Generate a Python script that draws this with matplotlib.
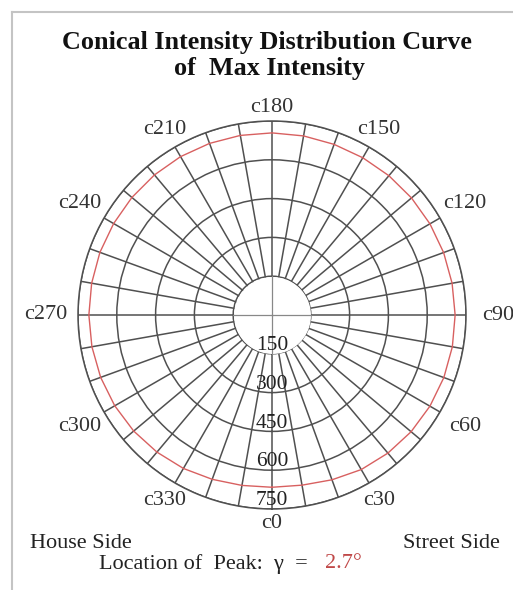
import numpy as np
import matplotlib
matplotlib.use("Agg")
import matplotlib.pyplot as plt

# C-plane angles (deg) and max intensity
c_angles = np.arange(0, 360, 10)
intensity = [666, 668, 678, 690, 697, 702, 705, 707, 708, 708, 707, 706,
             705, 704, 703, 702, 702, 703, 704, 705, 706, 707, 707, 707,
             707, 708, 708, 708, 707, 705, 702, 698, 692, 685, 676, 669]

ring_values = [150, 300, 450, 600, 750]
label_angles = np.arange(0, 360, 30)
peak_text = "2.7°"

plt.rcParams['font.family'] = ['Liberation Serif', 'DejaVu Serif']
grid_col = '#505050'
txt_col = '#333333'

fig = plt.figure(figsize=(5.13, 5.90), dpi=100)
fig.patch.set_facecolor('white')

# frame lines on left and top
fig.add_artist(plt.Line2D([12/513, 12/513], [0, 1 - 12/590], transform=fig.transFigure,
                          color='#c4c4c4', lw=1.5))
fig.add_artist(plt.Line2D([12/513, 1], [1 - 12/590, 1 - 12/590], transform=fig.transFigure,
                          color='#c4c4c4', lw=1.5))

R = 194  # px
cx, cy = 272, 315
ax = fig.add_axes([(cx - R)/513, (590 - cy - R)/590, 2*R/513, 2*R/590], projection='polar')
ax.set_theta_zero_location('S')
ax.set_theta_direction(1)
ax.set_ylim(0, 750)

# grid: spokes every 10 deg
ax.set_thetagrids(c_angles, [""] * len(c_angles))
ax.set_rgrids(ring_values, [""] * len(ring_values))
ax.grid(True, color=grid_col, lw=1.1)
ax.spines['polar'].set_color(grid_col)
ax.spines['polar'].set_linewidth(1.1)

# angle labels every 30 deg, a bit further out on the sides
for a in label_angles:
    phi = np.radians(a)
    d = 208 + 18 * abs(np.sin(phi)) ** 1.5
    ax.text(phi, 750 * d / R, "c%d" % a, ha='center', va='center', fontsize=16,
            color=txt_col, clip_on=False)

# white hole in the middle, with cross lines through the centre
th = np.linspace(0, 2 * np.pi, 361)
ax.fill_between(th, 0, ring_values[0] - 4, color='white', zorder=2)
for a in [0, 90, 180, 270]:
    ax.plot([np.radians(a), np.radians(a)], [0, ring_values[0]], color='#888888', lw=0.9, zorder=2.1)

# radial labels along c0
for r in ring_values:
    ax.text(0, r - 32, str(r), ha='center', va='center', fontsize=15.5, color='#222222', zorder=3)

# intensity curve
t = np.radians(np.append(c_angles, c_angles[0]))
v = np.append(intensity, intensity[0])
ax.plot(t, v, color='#d86060', lw=1.0, zorder=2.5)

fig.text(267/513, 1 - 42/590, "Conical Intensity Distribution Curve", ha='center', va='center',
         fontsize=18.8, fontweight='bold', color='#111111')
fig.text(270/513, 1 - 68/590, "of  Max Intensity", ha='center', va='center',
         fontsize=18.8, fontweight='bold', color='#111111')

fig.text(30/513, 1 - 543/590, "House Side", ha='left', va='center', fontsize=16, color='#222222')
fig.text(500/513, 1 - 543/590, "Street Side", ha='right', va='center', fontsize=16, color='#222222')
fig.text(308/513, 1 - 564/590, "Location of  Peak:  γ  =", ha='right', va='center',
         fontsize=16, color='#222222')
fig.text(325/513, 1 - 564/590, peak_text, ha='left', va='center', fontsize=16, color='#c04848')

fig.savefig("out.png", dpi=100, facecolor='white')
